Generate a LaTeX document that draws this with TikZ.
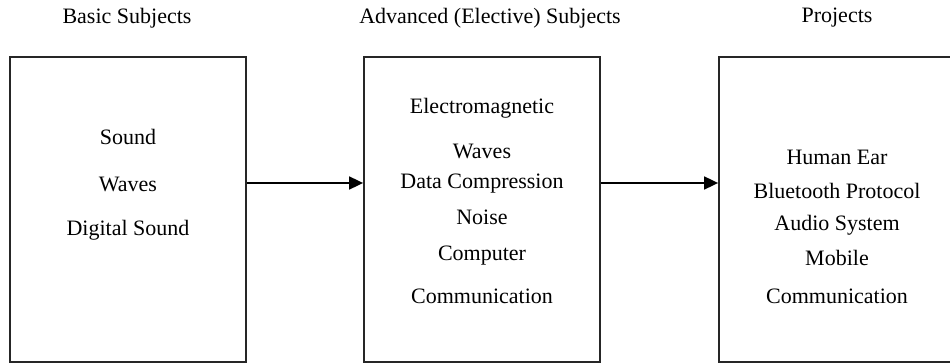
\documentclass[tikz,border=0pt]{standalone}
\usepackage{fontspec}
\setmainfont{Liberation Serif}
\usetikzlibrary{arrows.meta}
\begin{document}
\begin{tikzpicture}[x=1pt,y=-1pt,
  box/.style={draw=black!85,line width=1.8pt,inner sep=0pt},
  lbl/.style={font=\fontsize{22}{26}\selectfont,inner sep=0pt,anchor=center},
  conn/.style={line width=1.8pt,-{Triangle[length=14pt,width=13pt]}}]
\useasboundingbox (0,0) rectangle (950,363);
\clip (0,0) rectangle (950,363);
\node[box,minimum width=236pt,minimum height=305pt] (b1) at (128,209.5) {};
\node[box,minimum width=236pt,minimum height=305pt] (b2) at (482,209.5) {};
\node[box,minimum width=240pt,minimum height=305pt] (b3) at (839,209.5) {};
\node[lbl] (t1) at (127,18) {Basic Subjects};
\node[lbl] (t2) at (490,18) {Advanced (Elective) Subjects};
\node[lbl] (t3) at (837,18) {Projects};
\node[lbl] (l1) at (128,137) {Sound};
\node[lbl] (l2) at (128,184) {Waves};
\node[lbl] (l3) at (128,230) {Digital Sound};
\node[lbl] (m1) at (482,108) {Electromagnetic};
\node[lbl] (m2) at (482,151) {Waves};
\node[lbl] (m3) at (482,184) {Data Compression};
\node[lbl] (m4) at (482,217) {Noise};
\node[lbl] (m5) at (482,256) {Computer};
\node[lbl] (m6) at (482,296) {Communication};
\node[lbl] (r1) at (837,157) {Human Ear};
\node[lbl] (r2) at (837,191) {Bluetooth Protocol};
\node[lbl] (r3) at (837,225) {Audio System};
\node[lbl] (r4) at (837,258) {Mobile};
\node[lbl] (r5) at (837,296) {Communication};
\coordinate (ay) at (0,183);
\draw[conn] (b1.east |- ay) -- (b2.west |- ay);
\draw[conn] (b2.east |- ay) -- (b3.west |- ay);
\end{tikzpicture}
\end{document}
